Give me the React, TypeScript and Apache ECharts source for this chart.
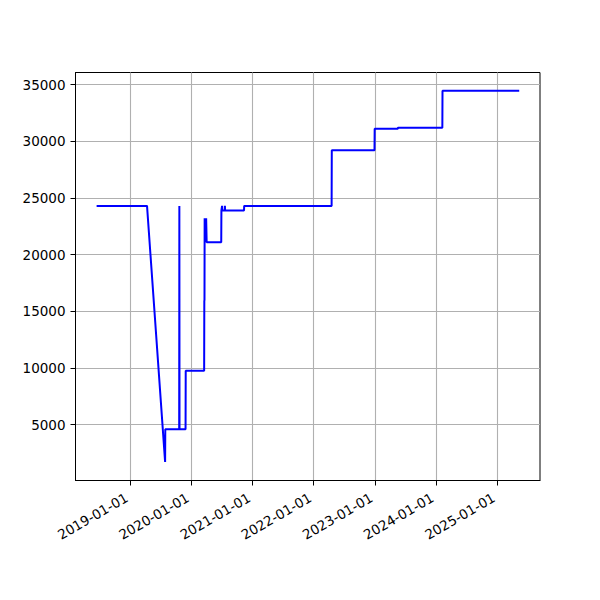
import React, { useEffect, useRef } from "react";
import * as echarts from "echarts";

// Data
const dates: string[] = [
  "2018-06-15", "2019-04-12", "2019-07-29", "2019-07-30", "2019-10-21",
  "2019-10-22", "2019-10-23", "2019-11-28", "2019-11-29", "2020-03-18",
  "2020-03-19", "2020-03-20", "2020-03-21", "2020-03-24", "2020-03-26",
  "2020-03-28", "2020-03-30", "2020-04-02", "2020-06-28", "2020-06-29",
  "2020-07-02", "2020-07-03", "2020-07-04", "2020-07-19", "2020-07-20",
  "2020-07-21", "2020-11-11", "2020-11-12", "2022-04-18", "2022-04-19",
  "2022-12-30", "2022-12-31", "2023-05-18", "2023-05-19", "2024-02-08",
  "2024-02-09", "2025-05-12",
];
const values: number[] = [
  24300, 24300, 1700, 4600, 4600,
  24300, 4600, 4600, 9750, 9750,
  15900, 16000, 23200, 21100, 23200,
  21100, 23200, 21100, 21100, 23900,
  23900, 24300, 23900, 23900, 24300,
  23900, 23900, 24300, 24300, 29200,
  29200, 31100, 31100, 31200, 31200,
  34450, 34450,
];
const xTickLabels: string[] = [
  "2019-01-01", "2020-01-01", "2021-01-01", "2022-01-01",
  "2023-01-01", "2024-01-01", "2025-01-01",
];
const yTickValues: number[] = [5000, 10000, 15000, 20000, 25000, 30000, 35000];
const xRange: string[] = ["2018-02-09", "2025-09-13"];
const yRange: number[] = [70, 36070];

const toTs = (s: string): number => {
  const [y, m, d] = s.split("-").map(Number);
  return Date.UTC(y, m - 1, d);
};
const pad = (n: number) => (n < 10 ? "0" + n : "" + n);
const fmtDate = (v: number): string => {
  const d = new Date(v);
  return `${d.getUTCFullYear()}-${pad(d.getUTCMonth() + 1)}-${pad(d.getUTCDate())}`;
};

export default function App() {
  const ref = useRef<HTMLDivElement>(null);
  useEffect(() => {
    document.body.style.margin = "0";
    if (!ref.current) return;
    const chart = echarts.init(ref.current, undefined, { renderer: "svg" });
    const font = "DejaVu Sans";
    const xTicks = xTickLabels.map(toTs);
    chart.setOption({
      animation: false,
      backgroundColor: "#ffffff",
      grid: {
        left: 75.5,
        right: 60,
        top: 72.5,
        bottom: 119.5,
        show: true,
        borderColor: "#000000",
        borderWidth: 1,
        backgroundColor: "transparent",
      },
      xAxis: {
        type: "value",
        min: toTs(xRange[0]),
        max: toTs(xRange[1]),
        axisLine: { show: true, lineStyle: { color: "#000000", width: 1 } },
        axisTick: {
          show: true,
          length: 5,
          customValues: xTicks,
          lineStyle: { color: "#000000", width: 1 },
        },
        axisLabel: {
          customValues: xTicks,
          rotate: 30,
          align: "right",
          verticalAlign: "bottom",
          margin: 22,
          color: "#000000",
          fontFamily: font,
          fontSize: 13.5,
          formatter: (v: number) => fmtDate(v),
        },
        splitLine: { show: true, lineStyle: { color: "#b0b0b0", width: 1.1 } },
      },
      yAxis: {
        type: "value",
        min: yRange[0],
        max: yRange[1],
        axisLine: { show: true, lineStyle: { color: "#000000", width: 1 } },
        axisTick: {
          show: true,
          length: 5,
          customValues: yTickValues,
          lineStyle: { color: "#000000", width: 1 },
        },
        axisLabel: {
          customValues: yTickValues,
          margin: 10,
          color: "#000000",
          fontFamily: font,
          fontSize: 13.5,
          formatter: (v: number) => String(v),
        },
        splitLine: { show: true, lineStyle: { color: "#b0b0b0", width: 1.1 } },
      },
      series: [
        {
          type: "line",
          data: dates.map((d, i) => [toTs(d), values[i]]),
          showSymbol: false,
          symbol: "none",
          lineStyle: { color: "#0000ff", width: 2 },
          itemStyle: { color: "#0000ff" },
          z: 3,
        },
      ],
    });
    return () => chart.dispose();
  }, []);
  return <div ref={ref} style={{ width: 600, height: 600 }} />;
}
